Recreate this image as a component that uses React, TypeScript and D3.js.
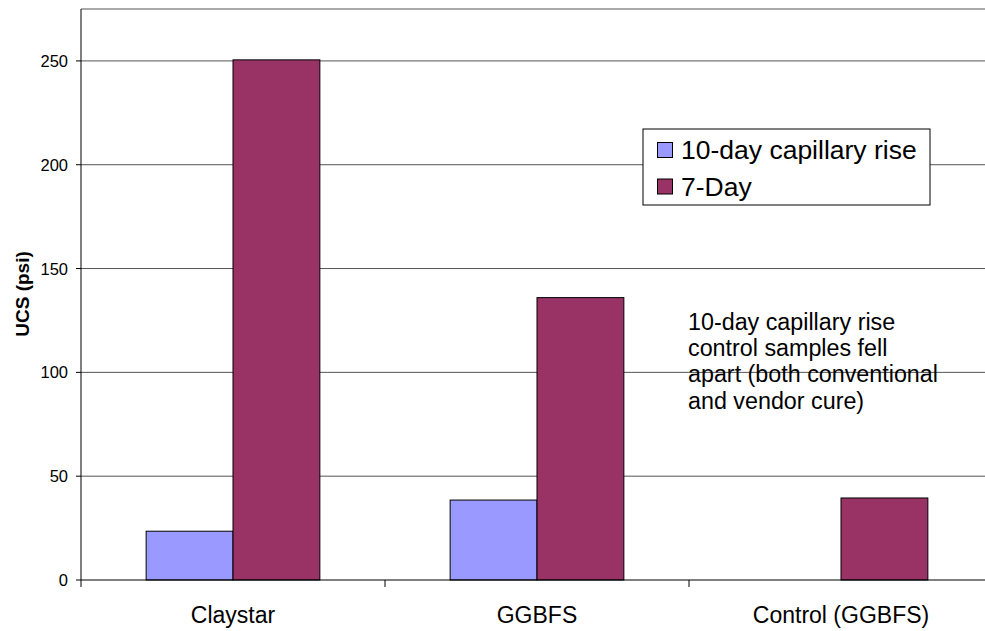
import React from "react";
import * as d3 from "d3";

const categories = ["Claystar", "GGBFS", "Control (GGBFS)"];
const seriesNames = ["10-day capillary rise", "7-Day"];
const capillary: (number | null)[] = [23.5, 38.5, null];
const sevenDay: (number | null)[] = [250.5, 136, 39.5];
const yTicks = [0, 50, 100, 150, 200, 250];
const colors = ["#9999FF", "#993366"];
const noteLines = [
  "10-day capillary rise",
  "control samples fell",
  "apart (both conventional",
  "and vendor cure)",
];

export default function App() {
  const W = 985, H = 631;
  const left = 81, top = 9, bottom = 580;
  const catW = 304;
  const right = left + catW * 3;
  const y = d3.scaleLinear().domain([0, 275]).range([bottom, top]);
  const x0 = d3.scaleBand().domain(categories).range([left, right]).padding(0);
  const barW = catW / 3.5;
  const series = [capillary, sevenDay];
  const font = "Liberation Sans, Arial, sans-serif";

  return (
    <svg width={W} height={H} style={{ position: "absolute", left: 0, top: 0, background: "#fff" }} fontFamily={font}>
      <rect x={0} y={0} width={W} height={H} fill="#fff" />
      {/* top border */}
      <line x1={left} x2={W} y1={top} y2={top} stroke="#8c8c8c" strokeWidth={1.5} />
      {/* gridlines */}
      {yTicks.filter(t => t > 0).map(t => (
        <line key={t} x1={left} x2={W} y1={y(t)} y2={y(t)} stroke="#555" strokeWidth={1} />
      ))}
      {/* bars */}
      {categories.map((c, i) => {
        const cx = (x0(c) as number) + catW / 2;
        return series.map((s, j) => {
          const v = s[i];
          if (v == null) return null;
          const bx = cx - barW + j * barW;
          return (
            <rect key={c + j} x={bx} y={y(v)} width={barW} height={bottom - y(v)}
              fill={colors[j]} stroke="#000" strokeWidth={1} />
          );
        });
      })}
      {/* axes */}
      <line x1={left} x2={left} y1={top} y2={bottom + 7} stroke="#000" strokeWidth={1} />
      <line x1={left} x2={W} y1={bottom} y2={bottom} stroke="#000" strokeWidth={1} />
      {yTicks.map(t => (
        <g key={t}>
          <line x1={left - 5} x2={left} y1={y(t)} y2={y(t)} stroke="#000" />
          <text x={68} y={y(t) + 6} textAnchor="end" fontSize={16.5}>{t}</text>
        </g>
      ))}
      {[1, 2].map(k => (
        <line key={k} x1={left + catW * k} x2={left + catW * k} y1={bottom} y2={bottom + 7} stroke="#000" />
      ))}
      {categories.map(c => (
        <text key={c} x={(x0(c) as number) + catW / 2} y={623} textAnchor="middle" fontSize={23}>{c}</text>
      ))}
      <text transform={`translate(29, 294) rotate(-90)`} textAnchor="middle" fontSize={19} fontWeight="bold">UCS (psi)</text>
      {/* legend */}
      <rect x={643} y={129} width={287} height={76} fill="#fff" stroke="#000" strokeWidth={1} />
      {seriesNames.map((n, j) => (
        <g key={n}>
          <rect x={657.5} y={142.5 + j * 36.5} width={15} height={15} fill={colors[j]} stroke="#000" />
          <text x={681} y={159 + j * 37} fontSize={26.5}>{n}</text>
        </g>
      ))}
      {/* note */}
      {noteLines.map((l, i) => (
        <text key={i} x={688} y={330 + i * 26.2} fontSize={23.3}>{l}</text>
      ))}
    </svg>
  );
}
